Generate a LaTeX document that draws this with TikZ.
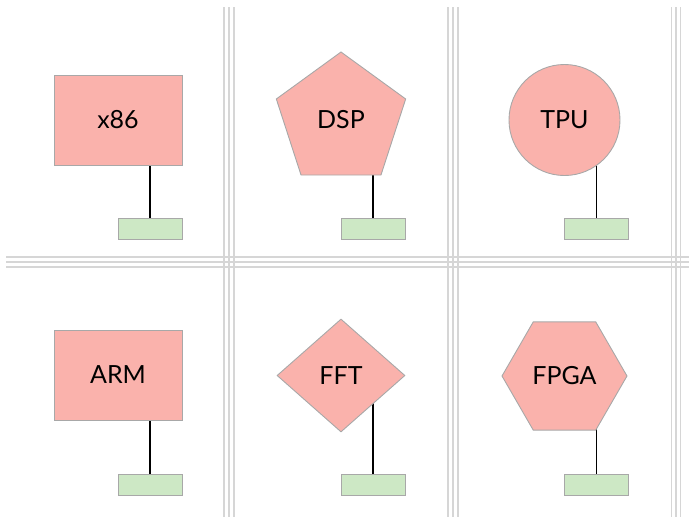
\documentclass[tikz,border=0pt]{standalone}
\usepackage{fontspec}
\setmainfont{Lato}
\usetikzlibrary{shapes.geometric}
\pgfdeclarelayer{background}
\pgfsetlayers{background,main}
\definecolor{unitfill}{RGB}{250,178,172}
\definecolor{unitedge}{RGB}{168,168,168}
\definecolor{tagfill}{RGB}{205,232,197}
\definecolor{sepline}{RGB}{214,214,214}
\tikzset{
  unit/.style={draw=unitedge, line width=0.9pt, fill=unitfill, inner sep=0pt,
    font=\fontsize{25}{28}\selectfont},
  boxunit/.style={unit, rectangle, minimum width=128pt, minimum height=90pt},
  pentunit/.style={unit, regular polygon, regular polygon sides=5, minimum size=136pt},
  roundunit/.style={unit, circle, minimum size=111pt},
  diamunit/.style={unit, diamond, minimum width=128pt, minimum height=113pt},
  hexunit/.style={unit, regular polygon, regular polygon sides=6, minimum size=125pt},
  tag/.style={draw=unitedge, line width=0.9pt, fill=tagfill, rectangle,
    minimum width=64pt, minimum height=21pt, inner sep=0pt},
  wire/.style={draw=black, line width=1.8pt},
  sep/.style={draw=sepline, line width=1.5pt}
}
\begin{document}
\begin{tikzpicture}[x=1pt, y=-1pt]
\useasboundingbox (0,0) rectangle (689,517);

% cell separators: triple rules
\foreach \x in {224,229,234,448,453,458,671.5,676,680.5}
  \draw[sep] (\x,7) -- (\x,517);
\foreach \y in {257,262,267}
  \draw[sep] (6,\y) -- (689,\y);

% top row
\node[boxunit]   (s1) at (118,120) {x86};
\node[pentunit]  (s2) at (341,120) {DSP};
\node[roundunit] (s3) at (564.5,120) {TPU};
% bottom row
\node[boxunit]   (s4) at (118,375) {ARM};
\node[diamunit]  (s5) at (341,375.5) {FFT};
\node[hexunit]   (s6) at (564.5,376) {FPGA};

% tags below each unit
\node[tag] (g1) at (150,229) {};
\node[tag] (g2) at (373,229) {};
\node[tag] (g3) at (596.5,229) {};
\node[tag] (g4) at (150,484.5) {};
\node[tag] (g5) at (373,484.5) {};
\node[tag] (g6) at (596.5,484.5) {};

% stems from tag up to the unit, hidden behind the shape
\begin{pgfonlayer}{background}
\foreach \i in {1,...,6}
  \draw[wire] (g\i.north) -- (g\i.north |- s\i.center);
\end{pgfonlayer}
\end{tikzpicture}
\end{document}
